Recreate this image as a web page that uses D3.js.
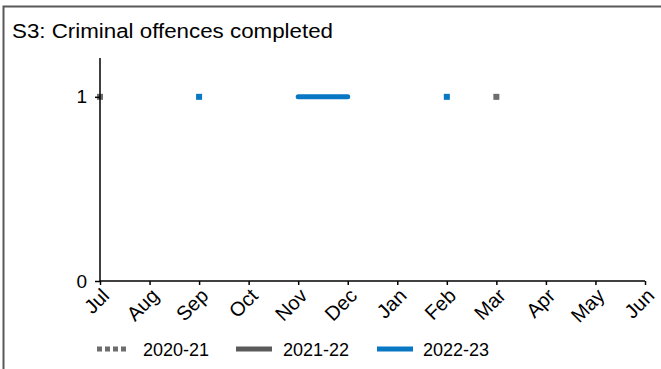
<!DOCTYPE html>
<html><head><meta charset="utf-8">
<script src="https://cdn.jsdelivr.net/npm/d3@7"></script>
<style>body{margin:0;background:#fff;}svg{display:block;font-family:"Liberation Sans",Arial,sans-serif;}</style>
</head><body>
<svg id="c" width="661" height="369"></svg>
<script>
const months = ["Jul","Aug","Sep","Oct","Nov","Dec","Jan","Feb","Mar","Apr","May","Jun"];
const s2020 = [1,null,null,null,null,null,null,null,1,null,null,null];
const s2021 = [null,null,null,null,null,null,null,null,null,null,null,null];
const s2022 = [null,null,1,null,1,1,null,1,null,null,null,null];
const yTicks = [0,1];
const seriesNames = ["2020-21","2021-22","2022-23"];
const seriesColors = ["#6d6d6d","#5a5a5a","#0877c4"];
const seriesDash = ["5,3",null,null];

const svg = d3.select("#c");
svg.append("path").attr("d","M3.5,369 V6.5 H661").attr("fill","none").attr("stroke","#595959").attr("stroke-width",2);
svg.append("text").attr("x",12).attr("y",38).attr("font-size",20).attr("fill","#000")
  .attr("textLength",321).attr("lengthAdjust","spacingAndGlyphs").text("S3: Criminal offences completed");

const x = d3.scalePoint().domain(months).range([100,645]);
const y = d3.scaleLinear().domain([0,1.2]).range([281,60]);

const g = svg.append("g");
const data = [s2020,s2021,s2022];
data.forEach((vals,i)=>{
  const pts = vals.map((v,j)=>({m:months[j],v}));
  const line = d3.line().defined(d=>d.v!==null).x(d=>x(d.m)).y(d=>y(d.v));
  g.append("path").attr("d",line(pts)).attr("fill","none").attr("stroke",seriesColors[i])
    .attr("stroke-width",5).attr("stroke-linecap","round");
  pts.forEach((d,j)=>{
    if(d.v===null) return;
    const prev = j>0 ? vals[j-1] : null, next = j<vals.length-1 ? vals[j+1] : null;
    if(prev===null && next===null){
      g.append("rect").attr("x",x(d.m)-3).attr("y",y(d.v)-3).attr("width",6).attr("height",6)
        .attr("fill",seriesColors[i]);
    }
  });
});

const ya = svg.append("g").attr("transform","translate(100,0)")
  .call(d3.axisLeft(y).tickValues(yTicks).tickSize(5).tickPadding(8).tickFormat(d3.format("d")));
ya.select(".domain").attr("d","M0,58V281").attr("stroke","#000").attr("stroke-width",1.5);
ya.selectAll(".tick line").attr("stroke","#000").attr("stroke-width",1.5);
ya.selectAll(".tick text").attr("font-size",19).attr("fill","#000").attr("font-family","Liberation Sans, Arial, sans-serif");

const xa = svg.append("g").attr("transform","translate(0,281)")
  .call(d3.axisBottom(x).tickSize(4).tickSizeOuter(0));
xa.select(".domain").attr("d","M100,0H645").attr("stroke","#000").attr("stroke-width",1.5);
xa.selectAll(".tick line").attr("stroke","#000").attr("stroke-width",1.5);
xa.selectAll(".tick text").attr("font-size",20).attr("fill","#000").attr("font-family","Liberation Sans, Arial, sans-serif")
  .attr("text-anchor","end").attr("dy",null).attr("y",0)
  .attr("transform","translate(10,16) rotate(-45)");

const legX = [97,236,377];
const lg = svg.append("g");
seriesNames.forEach((n,i)=>{
  lg.append("line").attr("x1",legX[i]).attr("x2",legX[i]+32+(i?4:0)).attr("y1",349).attr("y2",349)
    .attr("stroke",seriesColors[i]).attr("stroke-width",5)
    .attr("stroke-dasharray",seriesDash[i]);
  lg.append("text").attr("x",[143,283,423][i]).attr("y",356).attr("font-size",18).attr("fill","#000").text(n);
});
</script>
</body></html>
